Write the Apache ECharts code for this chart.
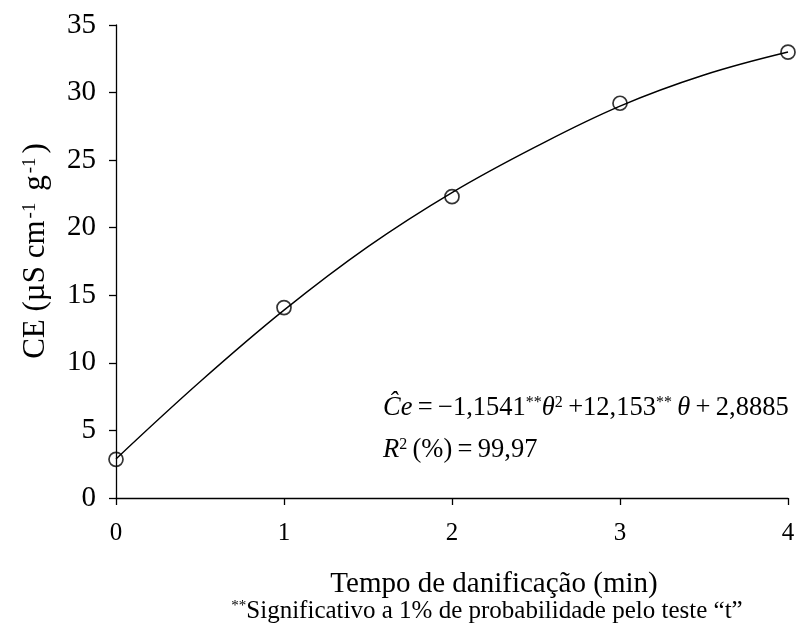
<!DOCTYPE html>
<html>
<head>
<meta charset="utf-8">
<script src="https://cdn.jsdelivr.net/npm/echarts@6/dist/echarts.min.js"></script>
<style>
  html, body { margin: 0; padding: 0; background: #fff; }
  #chart { width: 807px; height: 630px; }
</style>
</head>
<body>
<div id="chart"></div>
<script>
// Damage time (min) and measured electrical conductivity
var tempo = [0, 1, 2, 3, 4];
var ceObservada = [2.86, 14.09, 22.30, 29.21, 32.99];

// Fitted quadratic curve, traced at half-minute steps
var tempoCurva = [0, 0.5, 1, 1.5, 2, 2.5, 3, 3.5, 4];
var ceCurva = [2.89, 8.6, 13.9, 18.6, 22.6, 26.0, 29.0, 31.3, 33.0];

var yTicks = [0, 5, 10, 15, 20, 25, 30, 35];
var xTicks = [0, 1, 2, 3, 4];

var serif = 'Liberation Serif, Times New Roman, serif';
var thin = '\u2009';

function pairs(xs, ys) {
  return xs.map(function (x, i) { return [x, ys[i]]; });
}

var chart = echarts.init(document.getElementById('chart'));

var mathRich = {
  it: { fontFamily: serif, fontStyle: 'italic', fontSize: 26.5, fill: '#000' },
  sup: { fontFamily: serif, fontSize: 16, verticalAlign: 'top', fill: '#000' }
};

var option = {
  backgroundColor: '#fff',
  animation: false,
  grid: { left: 116, right: 19, top: 25, bottom: 132, containLabel: false },
  xAxis: {
    type: 'value',
    min: xTicks[0],
    max: xTicks[xTicks.length - 1],
    interval: 1,
    axisLine: { show: true, lineStyle: { color: '#000', width: 1.3 } },
    axisTick: { show: true, inside: false, length: 7, lineStyle: { color: '#000', width: 1.3 } },
    axisLabel: { color: '#000', fontFamily: serif, fontSize: 25, margin: 23 },
    splitLine: { show: false }
  },
  yAxis: {
    type: 'value',
    min: yTicks[0],
    max: yTicks[yTicks.length - 1],
    interval: 5,
    axisLine: { show: true, lineStyle: { color: '#000', width: 1.3 } },
    axisTick: { show: true, inside: false, length: 7, lineStyle: { color: '#000', width: 1.3 } },
    axisLabel: { color: '#000', fontFamily: serif, fontSize: 29, margin: 20 },
    splitLine: { show: false }
  },
  series: [
    {
      type: 'line',
      data: pairs(tempoCurva, ceCurva),
      smooth: 0.4,
      showSymbol: false,
      lineStyle: { color: '#000', width: 1.4 },
      z: 2
    },
    {
      type: 'scatter',
      data: pairs(tempo, ceObservada),
      symbol: 'circle',
      symbolSize: 14,
      itemStyle: { color: 'rgba(255,255,255,0)', borderColor: '#000', borderWidth: 1.7 },
      z: 3
    }
  ],
  graphic: [
    {
      type: 'text',
      x: 36, y: 251,
      rotation: Math.PI / 2,
      style: {
        text: 'CE (µS cm{sup|-1} g{sup|-1})',
        fontFamily: serif, fontSize: 31, fill: '#000',
        align: 'center', verticalAlign: 'middle',
        rich: { sup: { fontFamily: serif, fontSize: 19, verticalAlign: 'top', fill: '#000', padding: [0, 4, 0, 2] } }
      }
    },
    {
      type: 'text',
      x: 494, y: 584,
      style: {
        text: 'Tempo de danificação (min)',
        fontFamily: serif, fontSize: 29, fill: '#000',
        align: 'center', verticalAlign: 'middle'
      }
    },
    {
      type: 'text',
      x: 487, y: 611,
      style: {
        text: '{sup|**}Significativo a 1% de probabilidade pelo teste “t”',
        fontFamily: serif, fontSize: 25, fill: '#000',
        align: 'center', verticalAlign: 'middle',
        rich: { sup: { fontFamily: serif, fontSize: 15, verticalAlign: 'top', fill: '#000' } }
      }
    },
    {
      type: 'text',
      x: 383, y: 408,
      style: {
        text: '{it|Ĉe}' + thin + '=' + thin + '−1,1541{sup|**}{it|θ}{sup|2}' + thin + '+12,153{sup|**}' + thin + '{it|θ}' + thin + '+' + thin + '2,8885',
        fontFamily: serif, fontSize: 26.5, fill: '#000',
        align: 'left', verticalAlign: 'middle',
        rich: mathRich
      }
    },
    {
      type: 'text',
      x: 383, y: 450,
      style: {
        text: '{it|R}{sup|2}' + thin + '(%)' + thin + '=' + thin + '99,97',
        fontFamily: serif, fontSize: 26.5, fill: '#000',
        align: 'left', verticalAlign: 'middle',
        rich: mathRich
      }
    }
  ]
};

chart.setOption(option);
</script>
</body>
</html>
